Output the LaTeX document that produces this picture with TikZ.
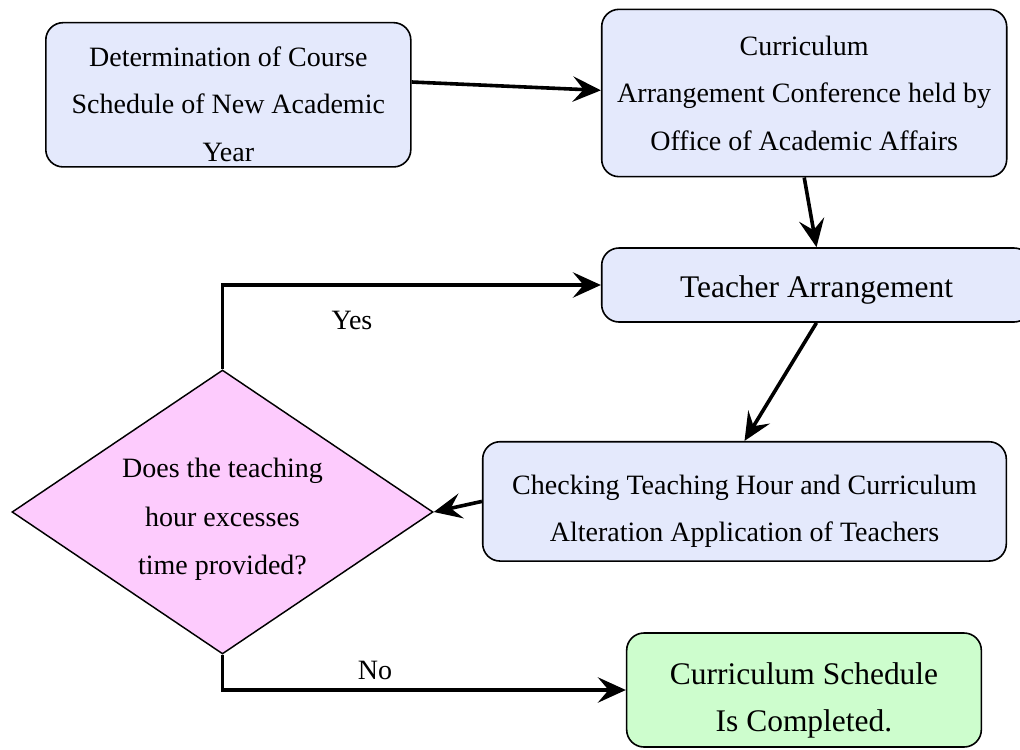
\documentclass[tikz,border=0pt]{standalone}
\usepackage{fontspec}
\setmainfont{Liberation Serif}
\usepackage{tikz}
\usetikzlibrary{shapes.geometric,arrows.meta}
\definecolor{stepblue}{RGB}{228,233,252}
\definecolor{askpink}{RGB}{253,203,253}
\definecolor{donegreen}{RGB}{205,253,205}
\newcommand{\topgap}[1]{\rule{0pt}{#1}}
\tikzset{stepbox/.style={draw, rounded corners=13pt, line width=1.2pt, fill=stepblue, align=center, inner sep=0pt, font=\fontsize{21}{35.6}\selectfont}}
\tikzset{askbox/.style={draw, shape=diamond, aspect=1.48, line width=1.1pt, fill=askpink, align=center, inner sep=0pt, font=\fontsize{21}{36.4}\selectfont}}
\tikzset{flow/.style={line width=2.7pt, -{Stealth[length=21pt, width=19pt, inset=8pt]}}}
\tikzset{answer/.style={font=\fontsize{21}{25}\selectfont}}

\begin{document}
\begin{tikzpicture}[x=0.75pt, y=-0.75pt]
	\useasboundingbox (0,0) rectangle (1020,749);

	% Steps
	\node[stepbox, minimum width=273.75pt, minimum height=108.2pt] (determine) at (228.3,94.8) {\topgap{29pt}Determination of Course\\Schedule of New Academic\\Year};
	\node[stepbox, minimum width=303.75pt, minimum height=125.5pt] (conference) at (804.2,93) {Curriculum\\Arrangement Conference held by\\Office of Academic Affairs};
	\node[stepbox, minimum width=322.2pt, minimum height=55.5pt, font=\fontsize{23.6}{28}\selectfont] (teacher) at (816.5,285) {\topgap{24pt}Teacher Arrangement};
	\node[stepbox, minimum width=392.7pt, minimum height=89.5pt] (checking) at (744.5,501.4) {\topgap{29pt}Checking Teaching Hour and Curriculum\\Alteration Application of Teachers};

	% Decision
	\node[askbox, minimum width=315.75pt, minimum height=213pt] (excess) at (222.5,512) {\topgap{26pt}Does the teaching\\hour excesses\\time provided?};

	% End
	\node[stepbox, fill=donegreen, minimum width=266pt, minimum height=85.5pt, font=\fontsize{23.6}{35.3}\selectfont] (completed) at (804,690) {\topgap{31.5pt}Curriculum Schedule\\Is Completed.};

	% Answers
	\node[answer] (yes) at (352,320) {Yes};
	\node[answer] (no) at (375,670) {No};

	% Arrows
	\draw[flow] ([yshift=9.6pt]determine.east) -- ([yshift=2pt]conference.west);
	\draw[flow] (conference.south) -- (teacher.north);
	\draw[flow] (teacher.south) -- (checking.north);
	\draw[flow] (checking.west) -- (excess.east);
	\draw[flow] (excess.north) |- (teacher.west);
	\draw[flow] (excess.south) |- (completed.west);

\end{tikzpicture}
\end{document}
